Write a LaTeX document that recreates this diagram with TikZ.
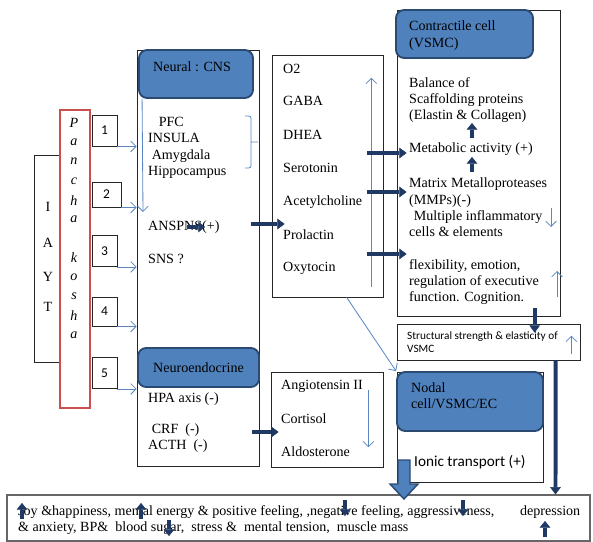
\documentclass[tikz,border=0pt]{standalone}
\usepackage{fontspec}
\setmainfont{Liberation Serif}
\newfontfamily\sfc{Carlito}
\usepackage{xcolor}
\usepackage{tikz}
\usetikzlibrary{arrows.meta,positioning,calc,fit}
\definecolor{hdrblue}{HTML}{4F81BD}
\definecolor{hdrline}{HTML}{2B4A72}
\definecolor{navy}{HTML}{1F3864}
\definecolor{kosha}{HTML}{C9504F}
\definecolor{thinblue}{HTML}{5A86C2}
\newcommand{\diagfont}{\fontsize{12}{14}\selectfont}

\begin{document}
\begin{tikzpicture}[
    x=0.03cm, y=-0.03cm,
    font=\diagfont,
    box/.style={draw=black!85,line width=0.6pt,inner sep=0pt},
    hdr/.style={draw=hdrline,fill=hdrblue,line width=1.6pt,rounded corners=7pt,inner sep=0pt},
    txt/.style={anchor=west,inner sep=0pt,align=left,font=\diagfont},
    num/.style={draw=black!85,line width=0.7pt,minimum width=0.75cm,minimum height=0.93cm,font=\sfc\fontsize{11.5}{13}\selectfont},
    thin/.style={-{Straight Barb[length=1.6mm,width=3.2mm]},thinblue,line width=0.7pt},
    fat/.style={-{Triangle[length=2.2mm,width=3.2mm,line width=0.4pt]},navy,line width=3.4pt},
    stub/.style={-{Triangle[length=2mm,width=3.2mm,line width=0.4pt]},navy,line width=3.2pt}
]
\useasboundingbox (0,0) rectangle (593,542);

% yoga side
\node[box,fit={(34,155)(70,362)}] (iayt) {};
\foreach \ch/\y in {I/207,A/243,Y/277,T/307}
  \node (ia\ch) at (48,\y) {\ch};
\node[draw=kosha,fill=white,line width=2.2pt,inner sep=0pt,fit={(60,110)(90,408)}] (kosha) {};
\foreach \ch/\n in {P/0,a/1,n/2,c/3,h/4,a/5,k/7,o/8,s/9,h/10,a/11}
  \node[font=\diagfont\itshape] (ko\n) at (74,123+19.3*\n) {\ch};

\node[num] (n1) at (104.5,130.5) {1};
\node[num,minimum width=0.87cm,minimum height=0.75cm] (n2) at (106.5,194.5) {2};
\node[num] (n3) at (104.5,251) {3};
\node[num,minimum height=0.87cm] (n4) at (104.5,311.5) {4};
\node[num] (n5) at (104.5,373) {5};

% neural column
\node[box,fit={(137,50)(259,466)}] (cns) {};
\foreach \n in {1,...,5}
  \draw[thin] (n\n.south east) -- (n\n.south east -| cns.west);
\node[hdr,fit={(139,50)(253,98)}] (cnshd) {};
\node[txt] (cnst) at (153,67) {Neural : CNS};
\node[txt] (brain) at (148,148) {\hspace*{9pt}PFC\\INSULA\\\hspace*{3pt}Amygdala\\Hippocampus};
\draw[thinblue,line width=0.7pt,rounded corners=2pt] (245,116) -- (251,116) -- (251,168) -- (245,168) (251,142) -- (258,142);
\coordinate (cnsdown) at (143,212);
\draw[thin] ($(cnshd.south west)+(4,0)$) -- (cnsdown);
\node[txt] (ans) at (148,227) {ANSPNS(+)};
\draw[stub] ($(ans.west)+(39,0)$) -- ++(18,0);
\node[txt] (sns) at (148,259) {SNS ?};

\node[hdr,fit={(138,348)(259,387)}] (neuhd) {};
\node (neut) at (neuhd.center) {Neuroendocrine};
\node[txt] (hpa) at (148,399) {HPA axis (-)};
\node[txt] (crf) at (148,438) {\hspace*{3pt}CRF\ \ (-)\\ACTH\ \ (-)};

% messengers
\node[box,fit={(272,55)(383,297)}] (mol) {};
\foreach \t/\y [count=\n] in {O2/69,GABA/101,DHEA/135,Serotonin/168,Acetylcholine/202,Prolactin/235,Oxytocin/268}
  \node[txt] (m\n) at (283,\y) {\t};
\draw[thin] ($(mol.south east)+(-12,-10)$) -- ($(mol.north east)+(-12,23)$);
\draw[fat] ($(cns.east |- ans.west)+(-8,-3)$) -- ($(mol.west |- ans.west)+(13,-3)$);

\node[box,fit={(271,372)(383,467)}] (ang) {};
\foreach \t/\y [count=\n] in {Angiotensin II/386,Cortisol/419,Aldosterone/452}
  \node[txt] (a\n) at (281,\y) {\t};
\draw[thin] ($(ang.north east)+(-15,18)$) -- ($(ang.south east)+(-15,-20)$);
\draw[fat] ($(cns.east |- crf.west)+(-7,-6)$) -- ($(ang.west |- crf.west)+(8,-6)$);

% vascular cells
\node[box,fit={(397,10)(560,316)}] (vsmc) {};
\node[hdr,fit={(396,10)(533,58)}] (vsmchd) {};
\node[txt] (vsmct) at (409,35.5) {Contractile cell\\(VSMC)};
\node[txt] (bal) at (409,100) {Balance of\\Scaffolding proteins\\(Elastin \& Collagen)};
\node[txt] (meta) at (409,149) {Metabolic activity (+)};
\node[txt] (mmp) at (409,207.5) {Matrix Metalloproteases\\(MMPs)(-)\\\hspace*{4pt}Multiple inflammatory\\cells \& elements};
\node[txt] (flex) at (409,282) {flexibility, emotion,\\regulation of executive\\function. Cognition.};
\coordinate (up1) at (472,138);
\coordinate (up2) at (472,172);
\draw[stub] (up1) -- ++(0,-15);
\draw[stub] (up2) -- ++(0,-15);
\foreach \y in {153,192,254}
  \draw[fat] ($(mol.east |- 0,\y)+(-16,0)$) -- ($(vsmc.west |- 0,\y)+(10,0)$);
\coordinate (mmpdn) at (551,208);
\draw[thin] (mmpdn) -- ++(0,19);
\coordinate (flexup) at (557,297);
\draw[thin] (flexup) -- ++(0,-26);

\node[box,fit={(397,324)(580,360)}] (str) {};
\node[txt,font=\sfc\fontsize{9.6}{11.5}\selectfont] (strt) at (407,342) {Structural strength \& elasticity of\\VSMC};
\draw[thin] ($(str.south east)+(-9,-6)$) -- ($(str.north east)+(-9,12)$);
\draw[fat] ($(vsmc.south west)+(138,-8)$) -- ($(str.north west)+(138,9)$);

\node[box,fit={(397,372)(543,482)}] (nod) {};
\node[hdr,fit={(397,372)(543,431)}] (nodhd) {};
\node[txt] (nodt) at (411,395.5) {Nodal\\cell/VSMC/EC};
\node[txt,font=\sfc\fontsize{13}{15}\selectfont] (ion) at (414,462) {Ionic transport (+)};
\draw[thin] ($(mol.south west)+(75,0)$) -- (nodhd.north west);

% outcomes
\node[box,draw=black!60,line width=0.9pt,fit={(7,495)(590,541)}] (bot) {};
\node[txt] (eff) at (18,520) {Joy \&happiness, mental energy \& positive feeling, ,negative feeling, aggressiveness,\hspace{22pt}depression\\\& anxiety, BP\&\ \ blood sugar,\ \ stress \&\ \ mental tension,\ \ muscle mass};
\draw[fat] ($(str.south west)+(159,0)$) -- ($(bot.north west)+(549,0)$);
\coordinate (blk) at (404,460);
\draw[hdrline,fill=hdrblue,line width=1.2pt,line join=miter] ($(blk)+(-6,0)$) -- ++(12,0) -- ++(0,24) -- ++(8,0) -- ++(-14,15) -- ++(-14,-15) -- ++(8,0) -- cycle;
\foreach \x/\y/\d [count=\n] in {22/519/-1,141/519/-1,169/520/1,345/500/1,463/500/1,545/537/-1}{
  \coordinate (mark\n) at (\x,\y);
  \draw[stub] (mark\n) -- ++(0,16*\d);
}
\end{tikzpicture}
\end{document}
